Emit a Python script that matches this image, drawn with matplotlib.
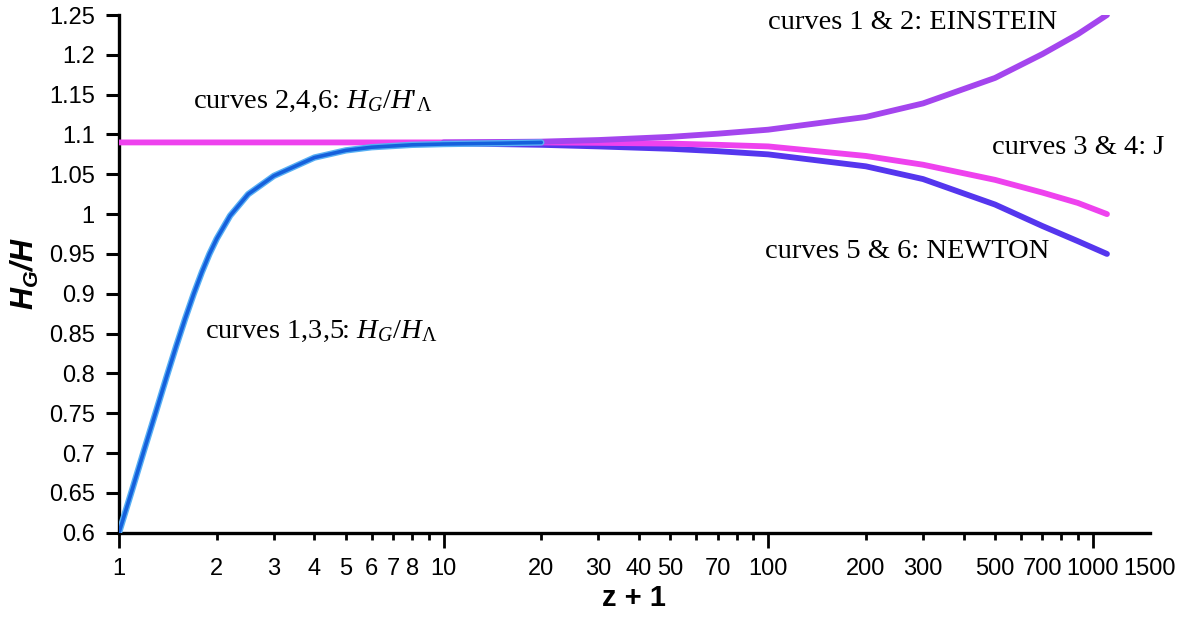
import numpy as np
import matplotlib
matplotlib.use("Agg")
import matplotlib.pyplot as plt
from matplotlib.ticker import FixedLocator, FixedFormatter

# serif text + italic math for the curve labels, bold-italic sans for the y label
plt.rcParams['mathtext.fontset'] = 'custom'
plt.rcParams['mathtext.rm'] = 'Liberation Serif'
plt.rcParams['mathtext.it'] = 'Liberation Serif:italic'
plt.rcParams['mathtext.bf'] = 'Liberation Sans:bold:italic'

# curves 1,3,5 : H_G/H_Lambda (rising part)
z_rise = [1, 1.1, 1.2, 1.3, 1.4, 1.5, 1.6, 1.7, 1.8, 1.9, 2.0, 2.2, 2.5, 3, 4, 5, 6, 8, 10, 15, 20]
hg_rise = [0.60, 0.655, 0.706, 0.752, 0.795, 0.834, 0.869, 0.900, 0.927, 0.950, 0.969, 0.998,
           1.025, 1.048, 1.071, 1.080, 1.084, 1.087, 1.088, 1.089, 1.090]

# curves 2,4,6 flat then curves 3 & 4 (J)
z_j = [1, 5, 10, 20, 30, 50, 70, 100, 200, 300, 500, 700, 900, 1106]
hg_j = [1.09, 1.09, 1.09, 1.09, 1.0895, 1.0885, 1.087, 1.085, 1.073, 1.062, 1.043, 1.027, 1.014, 1.0]

# curves 1 & 2 (EINSTEIN)
z_e = [10, 20, 30, 50, 70, 100, 200, 300, 500, 700, 900, 1106]
hg_e = [1.09, 1.091, 1.093, 1.097, 1.101, 1.106, 1.122, 1.139, 1.171, 1.201, 1.226, 1.25]

# curves 5 & 6 (NEWTON)
z_n = [10, 20, 30, 50, 70, 100, 200, 300, 500, 700, 900, 1106]
hg_n = [1.089, 1.087, 1.085, 1.082, 1.079, 1.075, 1.060, 1.044, 1.012, 0.985, 0.966, 0.95]

y_ticks = [0.6, 0.65, 0.7, 0.75, 0.8, 0.85, 0.9, 0.95, 1.0, 1.05, 1.1, 1.15, 1.2, 1.25]
x_major = [1, 10, 100, 1000]
x_minor = [2, 3, 4, 5, 6, 7, 8, 9, 20, 30, 40, 50, 60, 70, 80, 90,
           200, 300, 400, 500, 600, 700, 800, 900, 1500]
x_minor_labels = ['2', '3', '4', '5', '6', '7', '8', '', '20', '30', '40', '50', '', '70', '', '',
                  '200', '300', '', '500', '', '700', '', '', '1500']

fig = plt.figure(figsize=(11.85, 6.25), dpi=100)
ax = fig.add_axes([0.1004, 0.1477, 0.8700, 0.8283])

ax.plot(z_n, hg_n, color='#5536ee', lw=4.2, solid_capstyle='round', zorder=3)
ax.plot(z_j, hg_j, color='#ee42ee', lw=4.2, solid_capstyle='round', zorder=4)
ax.plot(z_e, hg_e, color='#a445ee', lw=4.2, solid_capstyle='round', zorder=5)
ax.plot(z_rise, hg_rise, color='#58b0f4', lw=4.6, solid_capstyle='round', zorder=6)
ax.plot(z_rise, hg_rise, color='#1560dc', lw=2.6, solid_capstyle='round', zorder=7)

ax.set_xscale('log')
ax.set_xlim(1, 1500)
ax.set_ylim(0.6, 1.25)

for s in ['top', 'right']:
    ax.spines[s].set_visible(False)
for s in ['left', 'bottom']:
    ax.spines[s].set_linewidth(2.4)

ax.set_yticks(y_ticks)
ax.set_yticklabels(['%g' % v for v in y_ticks])
ax.xaxis.set_major_locator(FixedLocator(x_major))
ax.xaxis.set_major_formatter(FixedFormatter([str(v) for v in x_major]))
ax.xaxis.set_minor_locator(FixedLocator(x_minor))
ax.xaxis.set_minor_formatter(FixedFormatter(x_minor_labels))

ax.tick_params(axis='y', which='major', direction='out', length=9.5, width=2.2, pad=8,
               labelsize=17, labelfontfamily='Liberation Sans')
ax.tick_params(axis='x', which='major', direction='out', length=10.5, width=2.0, pad=8,
               labelsize=17, labelfontfamily='Liberation Sans')
ax.tick_params(axis='x', which='minor', direction='out', length=5, width=2.0, pad=13.5,
               labelsize=17, labelfontfamily='Liberation Sans')
ax.xaxis.get_minor_ticks()[-1].tick1line.set_visible(False)

# curve labels
fs = 20.5
ax.text(100, 1.233, 'curves 1 & 2: EINSTEIN', fontsize=fs, family='Liberation Serif')
ax.text(489, 1.075, 'curves 3 & 4: J', fontsize=fs, family='Liberation Serif')
ax.text(98, 0.945, 'curves 5 & 6: NEWTON', fontsize=fs, family='Liberation Serif')
ax.text(1.69, 1.133, r"curves 2,4,6: $H_G/H\text{'}_{\mathit{\Lambda}}$", fontsize=fs,
        family='Liberation Serif')
ax.text(1.84, 0.844, r"curves 1,3,5: $H_G/H_{\mathit{\Lambda}}$", fontsize=fs,
        family='Liberation Serif')

fig.text(25 / 1185, 1 - 274 / 625, r'$\mathbf{H_G/H}$', rotation=90, fontsize=22,
         ha='center', va='center')
fig.text(634 / 1185, 1 - 598 / 625, 'z + 1', fontsize=21, fontweight='bold',
         family='Liberation Sans', ha='center', va='center')

fig.savefig('out.png', dpi=100)
